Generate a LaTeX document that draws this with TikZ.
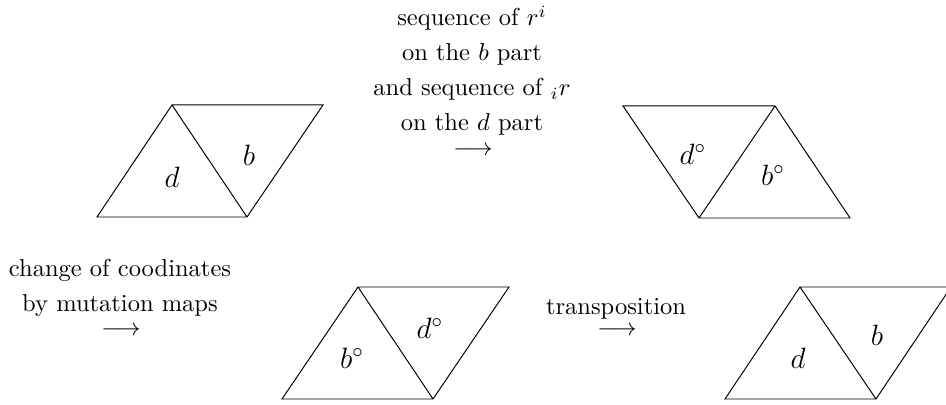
\documentclass[tikz,border=0pt]{standalone}
\begin{document}
\begin{tikzpicture}[x=0.408pt,y=-0.408pt,
  edge/.style={line width=0.4pt, line join=miter},
  lbl/.style={font=\large, inner sep=0pt},
  txt/.style={anchor=base, inner sep=0pt}]
\useasboundingbox (0,0) rectangle (946,405);
% shape 1
\coordinate (a1) at (97,217); \coordinate (a2) at (172,105);
\coordinate (a3) at (247,217); \coordinate (a4) at (323,105);
\draw[edge] (a1) -- (a2) -- (a4) -- (a3) -- cycle (a2) -- (a3);
\node[lbl] (d1) at (172,177) {$d$};
\node[lbl] (b1) at (249,155) {$b$};
% shape 2
\coordinate (c1) at (623,106); \coordinate (c2) at (775,106);
\coordinate (c3) at (699,218); \coordinate (c4) at (850,218);
\draw[edge] (c1) -- (c2) -- (c4) -- (c3) -- cycle (c2) -- (c3);
\node[lbl] (d2) at (693,154) {$d^\circ$};
\node[lbl] (b2) at (773,175) {$b^\circ$};
% shape 3
\coordinate (e1) at (282,399); \coordinate (e2) at (358,287);
\coordinate (e3) at (433,399); \coordinate (e4) at (509,287);
\draw[edge] (e1) -- (e2) -- (e4) -- (e3) -- cycle (e2) -- (e3);
\node[lbl] (b3) at (352,358) {$b^\circ$};
\node[lbl] (d3) at (430,328) {$d^\circ$};
% shape 4
\coordinate (f1) at (725,399); \coordinate (f2) at (800,287);
\coordinate (f3) at (876,399); \coordinate (f4) at (951,287);
\draw[edge] (f1) -- (f2) -- (f4) -- (f3) -- cycle (f2) -- (f3);
\node[lbl] (d4) at (798,358) {$d$};
\node[lbl] (b4) at (877,335) {$b$};
% top text
\node[txt] (t1) at (472,26) {sequence of $r^i$};
\node[txt] (t2) at (472,61) {on the $b$ part};
\node[txt] (t3) at (472,96) {and sequence of ${}_ir$};
\node[txt] (t4) at (472,131) {on the $d$ part};
\node[txt] (t5) at (473,156) {$\longrightarrow$};
% bottom left text
\node[txt] (m1) at (120,277) {change of coodinates};
\node[txt] (m2) at (120,312) {by mutation maps};
\node[txt] (m3) at (121,336) {$\longrightarrow$};
% transposition
\node[txt] (p1) at (616,315) {transposition};
\node[txt] (p2) at (617,336) {$\longrightarrow$};
\end{tikzpicture}
\end{document}
